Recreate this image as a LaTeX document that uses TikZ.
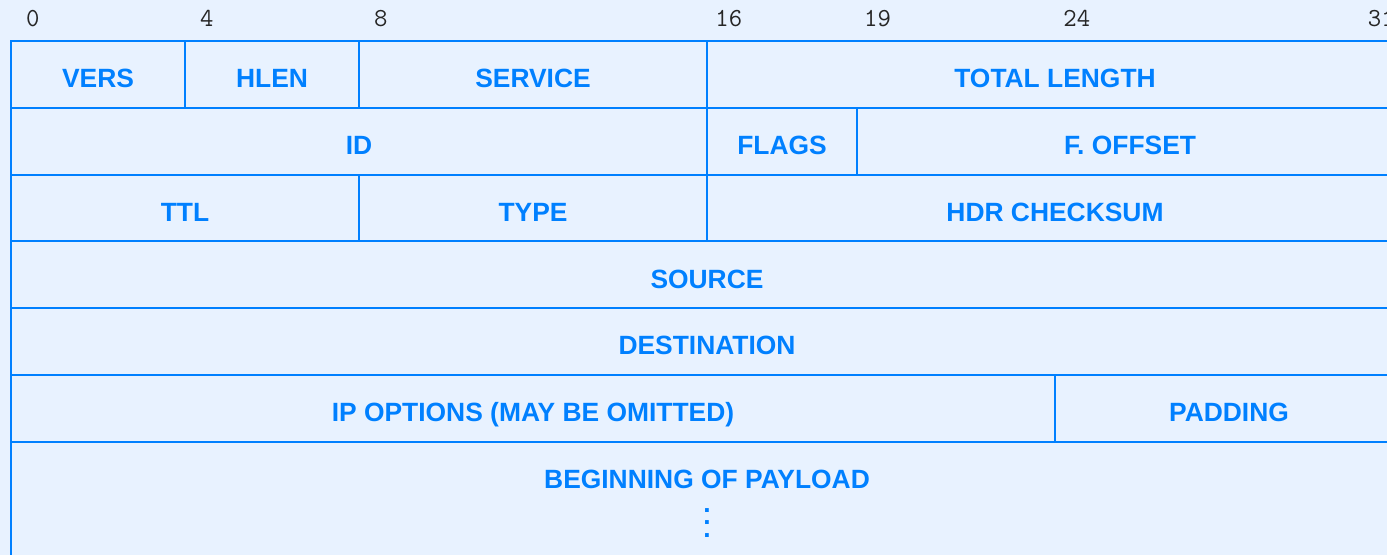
\documentclass[tikz,border=0pt]{standalone}
\usepackage{fontspec}
\setsansfont{Liberation Sans}
\usetikzlibrary{positioning}
\definecolor{ipblue}{RGB}{0,128,255}
\definecolor{ipbg}{RGB}{232,242,255}

\begin{document}
\begin{tikzpicture}[x=0.75pt,y=0.75pt]
  \tikzstyle{fieldbox}=[draw=ipblue,line width=1.6pt,inner sep=0pt,outer sep=0pt,text=ipblue,font=\sffamily\bfseries\fontsize{19.8}{23}\selectfont]
  \tikzstyle{field}=[fieldbox,minimum height=50.1pt,text height=20pt,text depth=0pt]
  \tikzstyle{bitnum}=[anchor=base,inner sep=0pt,text=black!85,font=\ttfamily\fontsize{19.5}{20}\selectfont]
  \clip (0,0) rectangle (1387,555);
  \fill[ipbg] (0,0) rectangle (1387,555);
  % bit offsets along the top
  \foreach \b/\x in {0/32.75,4/206.75,8/380.75,16/728.75,19/877.5,24/1076.75,31/1381.25}
    \node[bitnum] (n\b) at (\x,528) {\b};
  % first word
  \node[field,minimum width=130.5pt,anchor=north west] (vers) at (11,514) {VERS};
  \node[field,minimum width=130.5pt,right=0pt of vers] (hlen) {HLEN};
  \node[field,minimum width=261pt,right=0pt of hlen] (service) {SERVICE};
  \node[field,minimum width=522pt,right=0pt of service] (totlen) {TOTAL LENGTH};
  % second word
  \node[field,minimum width=522pt,anchor=north west] (ident) at (vers.south west) {ID};
  \node[field,minimum width=112.5pt,right=0pt of ident] (flags) {FLAGS};
  \node[field,minimum width=409.5pt,right=0pt of flags] (foffset) {F. OFFSET};
  % third word
  \node[field,minimum width=261pt,anchor=north west] (ttl) at (ident.south west) {TTL};
  \node[field,minimum width=261pt,right=0pt of ttl] (type) {TYPE};
  \node[field,minimum width=522pt,right=0pt of type] (checksum) {HDR CHECKSUM};
  % addresses
  \node[field,minimum width=1044pt,anchor=north west] (source) at (ttl.south west) {SOURCE};
  \node[field,minimum width=1044pt,anchor=north west] (dest) at (source.south west) {DESTINATION};
  % options
  \node[field,minimum width=783pt,anchor=north west] (options) at (dest.south west) {IP OPTIONS (MAY BE OMITTED)};
  \node[field,minimum width=261pt,right=0pt of options] (padding) {PADDING};
  % data part runs on past the bottom
  \node[fieldbox,minimum width=1044pt,inner ysep=21pt,anchor=north west,align=center,
        font=\sffamily\bfseries\fontsize{19.8}{9.5}\selectfont] (payload) at (options.south west)
        {BEGINNING OF PAYLOAD\\[8.5pt].\\.\\.};
\end{tikzpicture}
\end{document}
